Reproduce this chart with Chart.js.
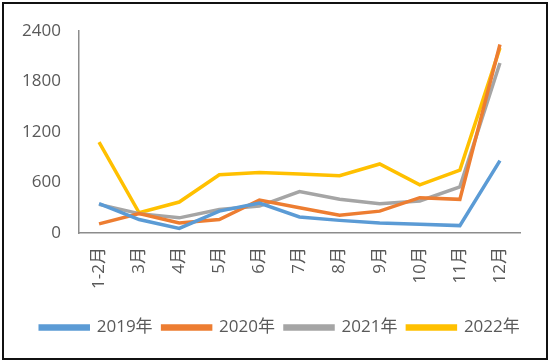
<!DOCTYPE html>
<html>
<head>
<meta charset="utf-8">
<script src="https://cdn.jsdelivr.net/npm/chart.js@4"></script>
<style>
  body { margin: 0; background: #fff; }
  #wrap { position: relative; width: 550px; height: 362px; }
  #frame { position: absolute; left: 2px; top: 2px; width: 542px; height: 354px; border: 2px solid #111; pointer-events: none; }
  canvas { position: absolute; left: 0; top: 0; }
</style>
</head>
<body>
<div id="wrap">
  <canvas id="chart" width="550" height="362"></canvas>
  <div id="frame"></div>
</div>
<script>
const months = ["1-2月", "3月", "4月", "5月", "6月", "7月", "8月", "9月", "10月", "11月", "12月"];
const yTicks = [0, 600, 1200, 1800, 2400];

const y2019 = [350, 160, 55, 260, 355, 190, 150, 120, 105, 88, 860];
const y2020 = [108, 230, 120, 160, 392, 300, 212, 260, 420, 400, 2240];
const y2021 = [340, 230, 180, 280, 320, 492, 400, 348, 380, 548, 2020];
const y2022 = [1080, 240, 368, 692, 720, 700, 680, 820, 572, 748, 2200];

const fontFamily = "'Open Sans', 'Noto Sans CJK SC', sans-serif";
const textColor = "#595959";
const axisColor = "#8c8c8c";

function series(label, data, color) {
  return {
    label: label,
    data: data,
    borderColor: color,
    backgroundColor: color,
    borderWidth: 3.5,
    pointRadius: 0,
    tension: 0,
    fill: false
  };
}

// nudge the legend to the right so it sits centred like the original
const legendShift = {
  id: "legendShift",
  afterLayout(chart) {
    chart.legend.left += 15;
    chart.legend.right += 15;
  }
};

new Chart(document.getElementById("chart"), {
  type: "line",
  data: {
    labels: months,
    datasets: [
      series("2019年", y2019, "#5b9bd5"),
      series("2020年", y2020, "#ed7d31"),
      series("2021年", y2021, "#a5a5a5"),
      series("2022年", y2022, "#ffc000")
    ]
  },
  plugins: [legendShift],
  options: {
    responsive: false,
    animation: false,
    layout: { padding: { left: 10, right: 30, top: 31, bottom: 16 } },
    plugins: {
      tooltip: { enabled: false },
      legend: {
        position: "bottom",
        labels: {
          boxWidth: 48,
          boxHeight: 3,
          padding: 10,
          color: textColor,
          font: { family: fontFamily, size: 17 }
        }
      }
    },
    scales: {
      x: {
        offset: true,
        grid: { display: false, drawTicks: false },
        border: { display: true, color: axisColor, width: 1.5 },
        ticks: {
          color: textColor,
          font: { family: fontFamily, size: 17 },
          minRotation: 90,
          maxRotation: 90,
          padding: 14,
          autoSkip: false
        },
        afterFit: s => { s.height = 76; }
      },
      y: {
        min: 0,
        max: 2400,
        grid: { display: false, drawTicks: false },
        border: { display: true, color: axisColor, width: 1.5 },
        afterBuildTicks: s => { s.ticks = yTicks.map(v => ({ value: v })); },
        ticks: {
          color: textColor,
          font: { family: fontFamily, size: 17 },
          padding: 18,
          callback: v => String(v)
        },
        afterFit: s => { s.width = 69; }
      }
    }
  }
});
</script>
</body>
</html>
